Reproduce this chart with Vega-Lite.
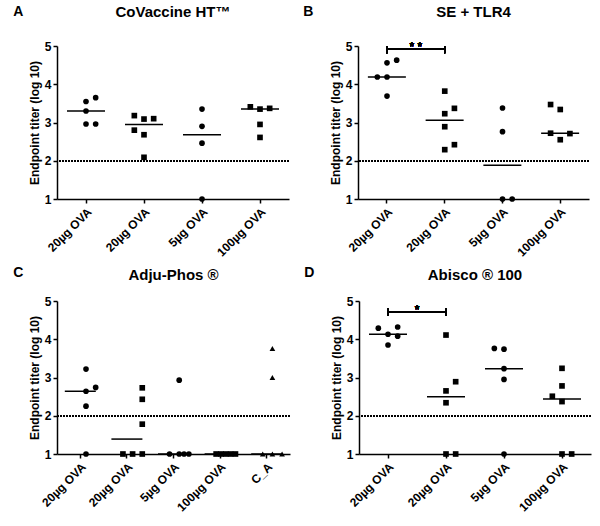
{
  "$schema": "https://vega.github.io/schema/vega-lite/v6.json",
  "padding": {"left": 13, "top": 5, "right": 5, "bottom": 5},
  "datasets": {
    "A": [
      {"g":1,"v":3.55,"j":0},{"g":1,"v":3.65,"j":1},{"g":1,"v":3.30,"j":0},{"g":1,"v":2.96,"j":0},{"g":1,"v":2.96,"j":1},
      {"g":2,"v":3.18,"j":-1},{"g":2,"v":3.09,"j":0},{"g":2,"v":3.10,"j":1},{"g":2,"v":2.80,"j":-1},{"g":2,"v":2.68,"j":0},{"g":2,"v":2.09,"j":0},
      {"g":3,"v":3.35,"j":0},{"g":3,"v":2.90,"j":0},{"g":3,"v":2.46,"j":0},{"g":3,"v":1.0,"j":0},
      {"g":4,"v":3.41,"j":-1},{"g":4,"v":3.35,"j":0},{"g":4,"v":3.37,"j":1},{"g":4,"v":2.95,"j":0},{"g":4,"v":2.61,"j":0}
    ],
    "B": [
      {"g":1,"v":4.63,"j":1},{"g":1,"v":4.56,"j":0},{"g":1,"v":4.19,"j":-1},{"g":1,"v":4.19,"j":0},{"g":1,"v":3.69,"j":0},
      {"g":2,"v":3.82,"j":0},{"g":2,"v":3.37,"j":1},{"g":2,"v":3.23,"j":0},{"g":2,"v":2.89,"j":0},{"g":2,"v":2.42,"j":1},{"g":2,"v":2.29,"j":0},
      {"g":3,"v":3.38,"j":0},{"g":3,"v":2.76,"j":0},{"g":3,"v":1.0,"j":0},{"g":3,"v":1.0,"j":1},
      {"g":4,"v":3.47,"j":-1},{"g":4,"v":3.34,"j":0},{"g":4,"v":2.72,"j":-1},{"g":4,"v":2.71,"j":1},{"g":4,"v":2.55,"j":0}
    ],
    "C": [
      {"g":1,"v":3.22,"j":0},{"g":1,"v":2.74,"j":1},{"g":1,"v":2.64,"j":0},{"g":1,"v":2.25,"j":0},{"g":1,"v":1.0,"j":0},
      {"g":2,"v":2.73,"j":1},{"g":2,"v":2.43,"j":1},{"g":2,"v":1.78,"j":1},{"g":2,"v":1.0,"j":-1},{"g":2,"v":1.0,"j":0},{"g":2,"v":1.0,"j":1},
      {"g":3,"v":2.93,"j":0},{"g":3,"v":1.0,"j":-1},{"g":3,"v":1.0,"j":0},{"g":3,"v":1.0,"j":0.5},{"g":3,"v":1.0,"j":1},
      {"g":4,"v":1.0,"j":-1},{"g":4,"v":1.0,"j":-0.5},{"g":4,"v":1.0,"j":0},{"g":4,"v":1.0,"j":0.5},{"g":4,"v":1.0,"j":1},
      {"g":5,"v":3.76,"j":0},{"g":5,"v":3.0,"j":0},{"g":5,"v":1.0,"j":-1},{"g":5,"v":1.0,"j":0},{"g":5,"v":1.0,"j":1}
    ],
    "D": [
      {"g":1,"v":4.29,"j":-1},{"g":1,"v":4.32,"j":1},{"g":1,"v":4.13,"j":0},{"g":1,"v":4.08,"j":1},{"g":1,"v":3.85,"j":0},
      {"g":2,"v":4.11,"j":0},{"g":2,"v":2.89,"j":1},{"g":2,"v":2.65,"j":0},{"g":2,"v":2.34,"j":0},{"g":2,"v":1.0,"j":0},{"g":2,"v":1.0,"j":1},
      {"g":3,"v":3.76,"j":-1},{"g":3,"v":3.74,"j":0},{"g":3,"v":3.23,"j":0},{"g":3,"v":2.95,"j":0},{"g":3,"v":1.0,"j":0},
      {"g":4,"v":3.24,"j":0},{"g":4,"v":2.78,"j":0},{"g":4,"v":2.51,"j":-1},{"g":4,"v":2.37,"j":0},{"g":4,"v":1.0,"j":0},{"g":4,"v":1.0,"j":1}
    ]
  },
  "spacing": 7,
  "vconcat": [
    {
      "spacing": 13,
      "hconcat": [
        {
          "title": {"text": "A", "anchor": "start", "frame": "bounds", "fontSize": 14, "dx": -15, "dy": 18},
          "vconcat": [
            {
              "width": 232, "height": 153,
              "title": {"text": "CoVaccine HT™", "offset": 20},
              "data": {"name": "A"},
              "resolve": {"axis": {"x": "independent", "y": "independent"}},
              "layer": [
                {"mark": {"type": "point", "filled": true, "opacity": 1, "size": 32, "color": "black"},
                 "encoding": {
                   "x": {"field": "g", "type": "ordinal", "scale": {"type": "band", "paddingInner": 0, "paddingOuter": 0},
                         "axis": {"title": null, "labelAngle": -45, "labelAlign": "right", "labelBaseline": "top", "labelPadding": 3,
                                  "labelExpr": "['20µg OVA','20µg OVA','5µg OVA','100µg OVA','C_A'][datum.value-1]"}},
                   "xOffset": {"field": "j", "type": "quantitative", "scale": {"domain": [-3, 3]}},
                   "y": {"field": "v", "type": "quantitative", "scale": {"domain": [1, 5], "nice": false, "zero": false},
                         "axis": {"title": "Endpoint titer (log 10)", "values": [1, 2, 3, 4, 5], "labelOverlap": false, "format": "d"}},
                   "shape": {"field": "g", "type": "nominal", "scale": {"domain": [1, 2, 3, 4, 5], "range": ["circle", "square", "circle", "square", "triangle-up"]}, "legend": null}
                 }},
                {"mark": {"type": "rule", "strokeDash": [1.5, 1.5], "strokeWidth": 1.5, "color": "black"},
                 "encoding": {"y": {"datum": 2, "type": "quantitative", "axis": null}}},
                {"mark": {"type": "tick", "orient": "horizontal", "size": 38, "thickness": 1.5, "color": "black"},
                 "encoding": {"x": {"field": "g", "type": "ordinal", "axis": null},
                              "y": {"aggregate": "median", "field": "v", "type": "quantitative", "axis": null}}}
              ]
            }
          ]
        },
        {
          "title": {"text": "B", "anchor": "start", "frame": "bounds", "fontSize": 14, "dx": -26, "dy": 18},
          "vconcat": [
            {
              "width": 231, "height": 153,
              "title": {"text": "SE + TLR4", "offset": 20},
              "data": {"name": "B"},
              "resolve": {"axis": {"x": "independent", "y": "independent"}},
              "layer": [
                {"mark": {"type": "point", "filled": true, "opacity": 1, "size": 32, "color": "black"},
                 "encoding": {
                   "x": {"field": "g", "type": "ordinal", "scale": {"type": "band", "paddingInner": 0, "paddingOuter": 0},
                         "axis": {"title": null, "labelAngle": -45, "labelAlign": "right", "labelBaseline": "top", "labelPadding": 3,
                                  "labelExpr": "['20µg OVA','20µg OVA','5µg OVA','100µg OVA','C_A'][datum.value-1]"}},
                   "xOffset": {"field": "j", "type": "quantitative", "scale": {"domain": [-3, 3]}},
                   "y": {"field": "v", "type": "quantitative", "scale": {"domain": [1, 5], "nice": false, "zero": false},
                         "axis": {"title": "Endpoint titer (log 10)", "values": [1, 2, 3, 4, 5], "labelOverlap": false, "format": "d"}},
                   "shape": {"field": "g", "type": "nominal", "scale": {"domain": [1, 2, 3, 4, 5], "range": ["circle", "square", "circle", "square", "triangle-up"]}, "legend": null}
                 }},
                {"mark": {"type": "rule", "strokeDash": [1.5, 1.5], "strokeWidth": 1.5, "color": "black"},
                 "encoding": {"y": {"datum": 2, "type": "quantitative", "axis": null}}},
                {"mark": {"type": "tick", "orient": "horizontal", "size": 38, "thickness": 1.5, "color": "black"},
                 "encoding": {"x": {"field": "g", "type": "ordinal", "axis": null},
                              "y": {"aggregate": "median", "field": "v", "type": "quantitative", "axis": null}}},
                {"mark": {"type": "rule", "strokeWidth": 1.2, "color": "black"},
                 "encoding": {"x": {"datum": 1, "type": "ordinal", "axis": null}, "x2": {"datum": 2}, "y": {"datum": 4.91, "type": "quantitative", "axis": null}}},
                {"mark": {"type": "rule", "strokeWidth": 1.2, "color": "black"},
                 "encoding": {"x": {"datum": 1, "type": "ordinal", "axis": null}, "y": {"datum": 4.81, "type": "quantitative", "axis": null}, "y2": {"datum": 5.0}}},
                {"mark": {"type": "rule", "strokeWidth": 1.2, "color": "black"},
                 "encoding": {"x": {"datum": 2, "type": "ordinal", "axis": null}, "y": {"datum": 4.81, "type": "quantitative", "axis": null}, "y2": {"datum": 5.0}}},
                {"mark": {"type": "text", "text": "* *", "fontSize": 12, "dx": 29, "dy": 2, "baseline": "alphabetic", "color": "black"},
                 "encoding": {"x": {"datum": 1, "type": "ordinal", "axis": null}, "y": {"datum": 4.91, "type": "quantitative", "axis": null}}}
              ]
            }
          ]
        }
      ]
    },
    {
      "spacing": 13,
      "hconcat": [
        {
          "title": {"text": "C", "anchor": "start", "frame": "bounds", "fontSize": 14, "dx": -15, "dy": 16},
          "vconcat": [
            {
              "width": 233, "height": 153,
              "title": {"text": "Adju-Phos ®", "offset": 12},
              "data": {"name": "C"},
              "resolve": {"axis": {"x": "independent", "y": "independent"}},
              "layer": [
                {"mark": {"type": "point", "filled": true, "opacity": 1, "size": 32, "color": "black"},
                 "encoding": {
                   "x": {"field": "g", "type": "ordinal", "scale": {"type": "band", "paddingInner": 0, "paddingOuter": 0},
                         "axis": {"title": null, "labelAngle": -45, "labelAlign": "right", "labelBaseline": "top", "labelPadding": 3,
                                  "labelExpr": "['20µg OVA','20µg OVA','5µg OVA','100µg OVA','C_A'][datum.value-1]"}},
                   "xOffset": {"field": "j", "type": "quantitative", "scale": {"domain": [-2.4, 2.4]}},
                   "y": {"field": "v", "type": "quantitative", "scale": {"domain": [1, 5], "nice": false, "zero": false},
                         "axis": {"title": "Endpoint titer (log 10)", "values": [1, 2, 3, 4, 5], "labelOverlap": false, "format": "d"}},
                   "shape": {"field": "g", "type": "nominal", "scale": {"domain": [1, 2, 3, 4, 5], "range": ["circle", "square", "circle", "square", "triangle-up"]}, "legend": null}
                 }},
                {"mark": {"type": "rule", "strokeDash": [1.5, 1.5], "strokeWidth": 1.5, "color": "black"},
                 "encoding": {"y": {"datum": 2, "type": "quantitative", "axis": null}}},
                {"mark": {"type": "tick", "orient": "horizontal", "size": 31, "thickness": 1.5, "color": "black"},
                 "encoding": {"x": {"field": "g", "type": "ordinal", "axis": null},
                              "y": {"aggregate": "median", "field": "v", "type": "quantitative", "axis": null}}}
              ]
            }
          ]
        },
        {
          "title": {"text": "D", "anchor": "start", "frame": "bounds", "fontSize": 14, "dx": -26, "dy": 16},
          "vconcat": [
            {
              "width": 232, "height": 153,
              "title": {"text": "Abisco ® 100", "offset": 12},
              "data": {"name": "D"},
              "resolve": {"axis": {"x": "independent", "y": "independent"}},
              "layer": [
                {"mark": {"type": "point", "filled": true, "opacity": 1, "size": 32, "color": "black"},
                 "encoding": {
                   "x": {"field": "g", "type": "ordinal", "scale": {"type": "band", "paddingInner": 0, "paddingOuter": 0},
                         "axis": {"title": null, "labelAngle": -45, "labelAlign": "right", "labelBaseline": "top", "labelPadding": 3,
                                  "labelExpr": "['20µg OVA','20µg OVA','5µg OVA','100µg OVA','C_A'][datum.value-1]"}},
                   "xOffset": {"field": "j", "type": "quantitative", "scale": {"domain": [-3, 3]}},
                   "y": {"field": "v", "type": "quantitative", "scale": {"domain": [1, 5], "nice": false, "zero": false},
                         "axis": {"title": "Endpoint titer (log 10)", "values": [1, 2, 3, 4, 5], "labelOverlap": false, "format": "d"}},
                   "shape": {"field": "g", "type": "nominal", "scale": {"domain": [1, 2, 3, 4, 5], "range": ["circle", "square", "circle", "square", "triangle-up"]}, "legend": null}
                 }},
                {"mark": {"type": "rule", "strokeDash": [1.5, 1.5], "strokeWidth": 1.5, "color": "black"},
                 "encoding": {"y": {"datum": 2, "type": "quantitative", "axis": null}}},
                {"mark": {"type": "tick", "orient": "horizontal", "size": 38, "thickness": 1.5, "color": "black"},
                 "encoding": {"x": {"field": "g", "type": "ordinal", "axis": null},
                              "y": {"aggregate": "median", "field": "v", "type": "quantitative", "axis": null}}},
                {"mark": {"type": "rule", "strokeWidth": 1.2, "color": "black"},
                 "encoding": {"x": {"datum": 1, "type": "ordinal", "axis": null}, "x2": {"datum": 2}, "y": {"datum": 4.71, "type": "quantitative", "axis": null}}},
                {"mark": {"type": "rule", "strokeWidth": 1.2, "color": "black"},
                 "encoding": {"x": {"datum": 1, "type": "ordinal", "axis": null}, "y": {"datum": 4.61, "type": "quantitative", "axis": null}, "y2": {"datum": 4.80}}},
                {"mark": {"type": "rule", "strokeWidth": 1.2, "color": "black"},
                 "encoding": {"x": {"datum": 2, "type": "ordinal", "axis": null}, "y": {"datum": 4.61, "type": "quantitative", "axis": null}, "y2": {"datum": 4.80}}},
                {"mark": {"type": "text", "text": "*", "fontSize": 12, "dx": 29, "dy": 2, "baseline": "alphabetic", "color": "black"},
                 "encoding": {"x": {"datum": 1, "type": "ordinal", "axis": null}, "y": {"datum": 4.71, "type": "quantitative", "axis": null}}}
              ]
            }
          ]
        }
      ]
    }
  ],
  "config": {
    "font": "Liberation Sans",
    "view": {"stroke": null},
    "axis": {"domainColor": "black", "tickColor": "black", "labelColor": "black", "titleColor": "black", "domainWidth": 1.5, "tickWidth": 1.5, "tickSize": 4, "labelFontWeight": "bold", "labelFontSize": 12, "titleFontWeight": "bold", "titleFontSize": 12, "grid": false},
    "axisY": {"labelOverlap": false, "titlePadding": 3, "labelPadding": 2},
    "title": {"color": "black", "fontSize": 15, "fontWeight": "bold"}
  }
}
